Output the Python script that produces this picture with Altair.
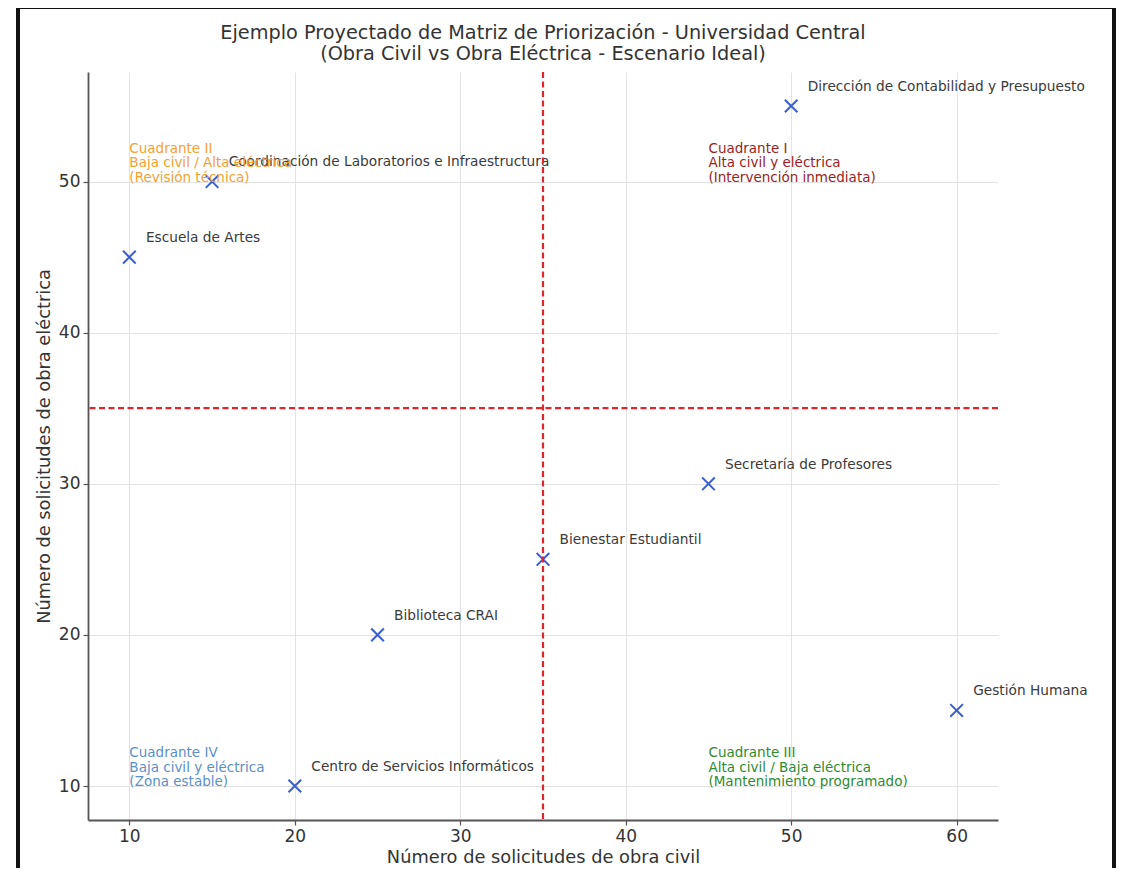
import altair as alt
import pandas as pd

# ---- data ----
dependencias = [
    "Dirección de Contabilidad y Presupuesto",
    "Coordinación de Laboratorios e Infraestructura",
    "Escuela de Artes",
    "Secretaría de Profesores",
    "Bienestar Estudiantil",
    "Biblioteca CRAI",
    "Gestión Humana",
    "Centro de Servicios Informáticos",
]
obra_civil = [50, 15, 10, 45, 35, 25, 60, 20]
obra_electrica = [55, 50, 45, 30, 25, 20, 15, 10]

umbral_civil = 35
umbral_electrica = 35

cuadrantes = ["Cuadrante I", "Cuadrante II", "Cuadrante III", "Cuadrante IV"]
cuadrante_desc = ["Alta civil y eléctrica", "Baja civil / Alta eléctrica",
                  "Alta civil / Baja eléctrica", "Baja civil y eléctrica"]
cuadrante_nota = ["(Intervención inmediata)", "(Revisión técnica)",
                  "(Mantenimiento programado)", "(Zona estable)"]
cuadrante_x = [45, 10, 45, 10]
cuadrante_y = [50, 50, 10, 10]
cuadrante_colores = ["#9b1c22", "#f5a030", "#2e8b2e", "#5b8fc8"]

x_ticks = [10, 20, 30, 40, 50, 60]
y_ticks = [10, 20, 30, 40, 50]

df = pd.DataFrame({"dep": dependencias, "civil": obra_civil, "electrica": obra_electrica})
dq = pd.DataFrame({
    "cuadrante": cuadrantes,
    "texto": [f"{c}\n{d}\n{n}" for c, d, n in zip(cuadrantes, cuadrante_desc, cuadrante_nota)],
    "x": cuadrante_x,
    "y": cuadrante_y,
})

FONT = "DejaVu Sans"
xscale = alt.Scale(domain=[7.5, 62.5], nice=False, zero=False)
yscale = alt.Scale(domain=[7.75, 57.25], nice=False, zero=False)

xenc = alt.X("civil:Q", scale=xscale,
             axis=alt.Axis(title="Número de solicitudes de obra civil", values=x_ticks, format="d"))
yenc = alt.Y("electrica:Q", scale=yscale,
             axis=alt.Axis(title="Número de solicitudes de obra eléctrica", values=y_ticks, format="d"))

base = alt.Chart(df)

points = base.mark_point(
    shape="M-1,-1L1,1M-1,1L1,-1", size=160, strokeWidth=2, filled=False,
    color="#3a5fd0", opacity=1
).encode(x=xenc, y=yenc)

labels = base.transform_calculate(
    lx="datum.civil + 1", ly="datum.electrica + 1"
).mark_text(
    align="left", baseline="alphabetic", font=FONT, fontSize=13.7, color="#3a3a3a"
).encode(
    x=alt.X("lx:Q", scale=xscale), y=alt.Y("ly:Q", scale=yscale), text="dep:N"
)

vrule = alt.Chart(pd.DataFrame({"u": [umbral_civil]})).mark_rule(
    color="#e0262c", strokeDash=[6, 3.5], strokeWidth=2.2
).encode(x=alt.X("u:Q", scale=xscale))

hrule = alt.Chart(pd.DataFrame({"u": [umbral_electrica]})).mark_rule(
    color="#e0262c", strokeDash=[6, 3.5], strokeWidth=2.2
).encode(y=alt.Y("u:Q", scale=yscale))

quad = alt.Chart(dq).mark_text(
    align="left", baseline="alphabetic", font=FONT, fontSize=13.5,
    lineBreak="\n", lineHeight=14.5, dy=-29
).encode(
    x=alt.X("x:Q", scale=xscale), y=alt.Y("y:Q", scale=yscale), text="texto:N",
    color=alt.Color("cuadrante:N", scale=alt.Scale(domain=cuadrantes, range=cuadrante_colores),
                    legend=None),
)

frame = alt.Chart(alt.Data(values=[{}])).mark_rect(
    fill=None, stroke="#111111", strokeWidth=4
).encode(
    x=alt.value(-70), x2=alt.value(1026), y=alt.value(-65), y2=alt.value(900)
)

chart = alt.layer(points, labels, vrule, hrule, quad, frame).properties(
    width=910, height=748,
    title=alt.Title(
        ["Ejemplo Proyectado de Matriz de Priorización - Universidad Central",
         "(Obra Civil vs Obra Eléctrica - Escenario Ideal)"],
        font=FONT, fontSize=19.3, fontWeight="normal", color="#333333",
        lineHeight=21, offset=-59.5, anchor="middle",
    ),
    autosize=alt.AutoSizeParams(type="none"),
    padding={"left": 80, "top": 64, "right": 118, "bottom": 48},
).configure_view(stroke=None).configure_axis(
    domainColor="#555555", domainWidth=1.8, tickColor="#555555", tickSize=5, tickWidth=1.2,
    gridColor="#e3e3e3", gridWidth=1,
    labelFont=FONT, labelFontSize=17, labelColor="#333333", labelPadding=3,
    titleFont=FONT, titleFontSize=17.8, titleFontWeight="normal", titleColor="#333333",
).configure_axisX(titlePadding=4).configure_axisY(titlePadding=5)

chart.save("out.html", embed_options={"renderer": "svg", "actions": False})
